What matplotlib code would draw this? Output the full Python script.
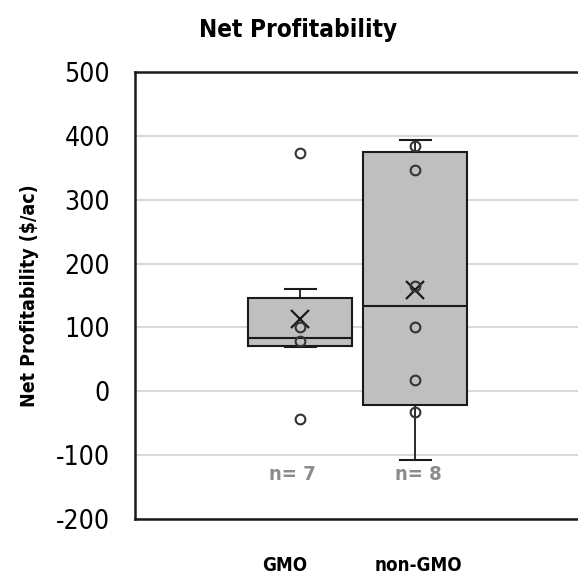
import matplotlib
matplotlib.use("Agg")
import matplotlib.pyplot as plt
from matplotlib import font_manager
from matplotlib.transforms import blended_transform_factory

# data
categories = ["GMO", "non-GMO"]
counts = [7, 8]
whisker_low = [69, -108]
q1 = [71, -21]
median = [83, 134]
q3 = [146, 374]
whisker_high = [160, 393]
means = [113, 159]
points_gmo = [373, 101, 79, -43]
points_non_gmo = [384, 347, 165, 101, 17, -33]

yticks = [-200, -100, 0, 100, 200, 300, 400, 500]


# look for a narrow font (the original uses a condensed face)
def find_narrow(bold):
    best = None
    for f in font_manager.fontManager.ttflist:
        narrow = ("Narrow" in f.name or "Condensed" in f.name
                  or "Narrow" in f.fname or "Condensed" in f.fname
                  or f.stretch in ("condensed", "semi-condensed"))
        if not narrow:
            continue
        is_bold = f.weight in ("bold", 700) or "Bold" in f.fname
        italic = f.style != "normal" or "Oblique" in f.fname or "Italic" in f.fname
        if is_bold == bold and not italic:
            if best is None or "Liberation" in f.fname:
                best = f.fname
    return best


reg_file = find_narrow(False)
bold_file = find_narrow(True)
fp_reg = font_manager.FontProperties(fname=reg_file) if reg_file else \
    font_manager.FontProperties(family="DejaVu Sans")
fp_bold = font_manager.FontProperties(fname=bold_file) if bold_file else \
    font_manager.FontProperties(family="DejaVu Sans", weight="bold")

fig = plt.figure(figsize=(5.78, 5.79), dpi=100)
ax = fig.add_axes([135 / 578, 1 - 519 / 579, 1 - 135 / 578, (519 - 72) / 579])

positions = [1, 2]
stats = []
for i, name in enumerate(categories):
    stats.append({
        "label": name,
        "whislo": whisker_low[i],
        "q1": q1[i],
        "med": median[i],
        "q3": q3[i],
        "whishi": whisker_high[i],
        "mean": means[i],
        "fliers": [],
    })

ax.bxp(
    stats,
    positions=positions,
    widths=0.9,
    showmeans=True,
    patch_artist=True,
    boxprops=dict(facecolor="#bfbfbf", edgecolor="#1a1a1a", linewidth=1.5),
    medianprops=dict(color="#1a1a1a", linewidth=1.5),
    whiskerprops=dict(color="#1a1a1a", linewidth=1.3),
    capprops=dict(color="#1a1a1a", linewidth=1.5),
    capwidths=0.27,
    meanprops=dict(marker="x", markersize=13, markeredgecolor="#1a1a1a",
                   markeredgewidth=1.6),
    zorder=2,
)

# individual points
for pos, pts in zip(positions, [points_gmo, points_non_gmo]):
    ax.plot([pos] * len(pts), pts, "o", markersize=7, markerfacecolor="none",
            markeredgecolor="#333333", markeredgewidth=1.5, zorder=3)

# n= labels (slightly off-centre, as in the original)
n_shift = [-0.07, 0.03]
for pos, n, dx in zip(positions, counts, n_shift):
    ax.text(pos + dx, -130, f"n= {n}", ha="center", va="center",
            fontproperties=fp_bold, fontsize=14.5, color="#8c8c8c")

ax.set_xlim(-0.435, 3.417)
ax.set_ylim(-200, 500)
ax.set_yticks(yticks)
ax.set_yticklabels([str(v) for v in yticks], fontproperties=fp_reg, fontsize=19)
ax.set_xticks([])
ax.tick_params(axis="y", length=0, pad=18)

# category labels sit well below the axis
trans = blended_transform_factory(ax.transData, ax.transAxes)
cat_shift = [-0.13, 0.03]
for pos, name, dx in zip(positions, categories, cat_shift):
    ax.text(pos + dx, -0.103, name, transform=trans, ha="center", va="center",
            fontproperties=fp_bold, fontsize=13.5)

ax.yaxis.grid(True, color="#d9d9d9", linewidth=1.5, zorder=0)
ax.set_axisbelow(True)
for s in ["top", "bottom", "left"]:
    ax.spines[s].set_linewidth(1.8)
    ax.spines[s].set_color("#1a1a1a")
ax.spines["right"].set_visible(False)

ax.set_ylabel("Net Profitability ($/ac)", fontproperties=fp_bold, fontsize=14,
              labelpad=12)
fig.text(298 / 578, 1 - 30 / 579, "Net Profitability", ha="center",
         va="center", fontproperties=fp_bold, fontsize=17.5)

fig.savefig("out.png", dpi=100)
